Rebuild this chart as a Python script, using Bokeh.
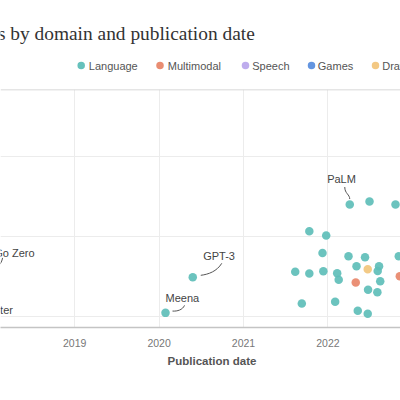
from bokeh.plotting import figure
from bokeh.models import Range1d, FixedTicker, Span, ColumnDataSource
from bokeh.layouts import column
from bokeh.embed import file_html
from bokeh.resources import INLINE
from bokeh.core.properties import value

# ---------------- data ----------------
title_text = "Training compute of notable ML systems by domain and publication date"
x_axis_title = "Publication date"
domains = ["Language", "Multimodal", "Speech", "Games", "Drawing"]
domain_colors = ["#5EBEB8", "#E8876A", "#BBA8EC", "#5B8FDE", "#F2C57C"]

language_dates = [2020.076, 2020.399, 2022.259, 2022.493, 2022.801, 2021.780, 2021.980,
                  2021.936, 2022.244, 2022.440, 2022.840, 2021.613, 2021.780, 2021.946,
                  2022.110, 2022.128, 2022.339, 2022.606, 2022.590, 2022.620, 2022.476,
                  2022.586, 2021.691, 2022.086, 2022.354, 2022.472]
language_flop = [1.11e23, 3.09e23, 2.51e24, 2.74e24, 2.51e24, 1.16e24, 1.03e24,
                 6.22e23, 5.67e23, 5.51e23, 5.67e23, 3.63e23, 3.45e23, 3.68e23,
                 3.48e23, 2.87e23, 4.25e23, 4.24e23, 3.71e23, 2.76e23, 2.16e23,
                 2.01e23, 1.45e23, 1.53e23, 1.18e23, 1.08e23]
multimodal_dates = [2022.330, 2022.852]
multimodal_flop = [2.66e23, 3.19e23]
speech_dates = []
speech_flop = []
games_dates = [2017.35, 2017.79]
games_flop = [1.5e23, 3.41e23]
drawing_dates = [2022.472]
drawing_flop = [3.89e23]

labeled_names = ["AlphaGo Master", "AlphaGo Zero", "Meena", "GPT-3", "PaLM"]
labeled_dates = [2017.35, 2017.79, 2020.076, 2020.399, 2022.259]
labeled_flop = [1.5e23, 3.41e23, 1.11e23, 3.09e23, 2.51e24]

year_ticks = [2018, 2019, 2020, 2021, 2022, 2023]
flop_grid = [1e23, 1e24, 1e25]

# ---------------- layout / style ----------------
W = 400
PX_PER_YEAR = 84.4
PX_PER_DECADE = 80.0
X0 = 2019 - 74.2 / PX_PER_YEAR
X1 = 2019 + (W - 74.2) / PX_PER_YEAR
Y0, Y1 = 10 ** 22.8625, 10 ** 25.8375
FONT = "Liberation Sans"

# label offsets (screen px) and leader curves (screen px relative to point)
label_dx = [-2, -6.5, 0, 10.4, -22.6]
label_dy = [8, -20.6, -15.2, -21.8, -25.7]
leaders = {  # name: (start, ctrl0, ctrl1, end)
    "AlphaGo Zero": ((18, -4), (25, -6), (29, -10), (30, -16)),
    "Meena": ((7, -1.8), (12, -1.5), (17, -3), (19, -7.5)),
    "GPT-3": ((8, -2), (16, -3), (24, -6), (29, -14)),
    "PaLM": ((0, -5.5), (0, -10), (-5, -11), (-5, -17.5)),
}


def sx(x, dx):
    return x + dx / PX_PER_YEAR


def sy(y, dy):
    return y * 10 ** (-dy / PX_PER_DECADE)


def blank(height, yr):
    f = figure(width=W, height=height, x_range=Range1d(0, W), y_range=Range1d(0, yr),
               x_axis_location=None, y_axis_location=None, min_border=0,
               outline_line_color=None, toolbar_location=None, output_backend="svg")
    f.xgrid.visible = False
    f.ygrid.visible = False
    return f


# ---------------- header (title + legend) ----------------
HEAD_H = 89
head = blank(HEAD_H, HEAD_H)
head.text(x=[255], y=[HEAD_H - 33.3], text=[title_text], text_align="right",
          text_baseline="alphabetic", text_font=value("Liberation Serif"),
          text_font_size="19.4px", text_color="#333333")

legend_marker_x = [80.7, 159.5, 245, 311, 375]
legend_text_x = [88.3, 167.3, 251.7, 317.3, 381.7]
legend_y = HEAD_H - 65
head.scatter(x=legend_marker_x, y=[legend_y] * len(domains), size=7.5,
             fill_color=domain_colors, line_color=None, fill_alpha=0.95)
head.text(x=legend_text_x, y=[legend_y] * len(domains), text=domains,
          text_align="left", text_baseline="middle", text_font=value(FONT),
          text_font_size="11px", text_color="#555555")

# ---------------- main chart ----------------
FRAME_H = 327 - 89
BOTTOM = 24
p = figure(width=W, height=FRAME_H + BOTTOM, x_range=Range1d(X0, X1), y_range=Range1d(Y0, Y1),
           y_axis_type="log", y_axis_location=None, output_backend="svg",
           toolbar_location=None, min_border_left=0, min_border_right=0,
           min_border_top=0, min_border_bottom=BOTTOM, outline_line_color=None)

p.xaxis.ticker = FixedTicker(ticks=year_ticks)
p.xaxis.axis_line_color = "#c4c4c4"
p.xaxis.axis_line_width = 1.5
p.xaxis.major_tick_line_color = None
p.xaxis.minor_tick_line_color = None
p.xaxis.major_label_text_font = FONT
p.xaxis.major_label_text_font_size = "10.5px"
p.xaxis.major_label_text_color = "#777777"
p.xaxis.major_label_standoff = 5

p.xgrid.grid_line_color = "#ececec"
p.ygrid.ticker = FixedTicker(ticks=flop_grid)
p.ygrid.grid_line_color = "#ececec"

p.add_layout(Span(location=Y1, dimension="width", line_color="#cccccc", line_width=1.5))

# leaders
lx0, ly0, lx1, ly1, lcx0, lcy0, lcx1, lcy1 = ([] for _ in range(8))
for name, d, f in zip(labeled_names, labeled_dates, labeled_flop):
    if name in leaders:
        s, c0, c1, e = leaders[name]
        lx0.append(sx(d, s[0])); ly0.append(sy(f, s[1]))
        lcx0.append(sx(d, c0[0])); lcy0.append(sy(f, c0[1]))
        lcx1.append(sx(d, c1[0])); lcy1.append(sy(f, c1[1]))
        lx1.append(sx(d, e[0])); ly1.append(sy(f, e[1]))
p.bezier(x0=lx0, y0=ly0, x1=lx1, y1=ly1, cx0=lcx0, cy0=lcy0, cx1=lcx1, cy1=lcy1,
         line_color="#555555", line_width=1)

series = [(language_dates, language_flop), (multimodal_dates, multimodal_flop),
          (speech_dates, speech_flop), (games_dates, games_flop),
          (drawing_dates, drawing_flop)]
for (xs, ys), col in zip(series, domain_colors):
    if xs:
        p.scatter(x=xs, y=ys, size=8.5, fill_color=col, line_color=None, fill_alpha=0.92)

lab_src = ColumnDataSource(dict(x=labeled_dates, y=labeled_flop, t=labeled_names,
                                dx=label_dx, dy=label_dy))
p.text(x="x", y="y", text="t", x_offset="dx", y_offset="dy", source=lab_src,
       text_align="left", text_baseline="middle", text_font=value(FONT),
       text_font_size="11px", text_color="#444444")

# ---------------- footer (x axis title) ----------------
MAIN_BOTTOM = 89 + FRAME_H + BOTTOM
FOOT_H = 392 - MAIN_BOTTOM
foot = blank(FOOT_H, FOOT_H)
foot.text(x=[211.5], y=[392 - 360], text=[x_axis_title], text_align="center",
          text_baseline="middle", text_font=value(FONT), text_font_size="11.5px",
          text_font_style="bold", text_color="#555555")

layout = column(head, p, foot)
open("out.html", "w").write(file_html(layout, INLINE))
